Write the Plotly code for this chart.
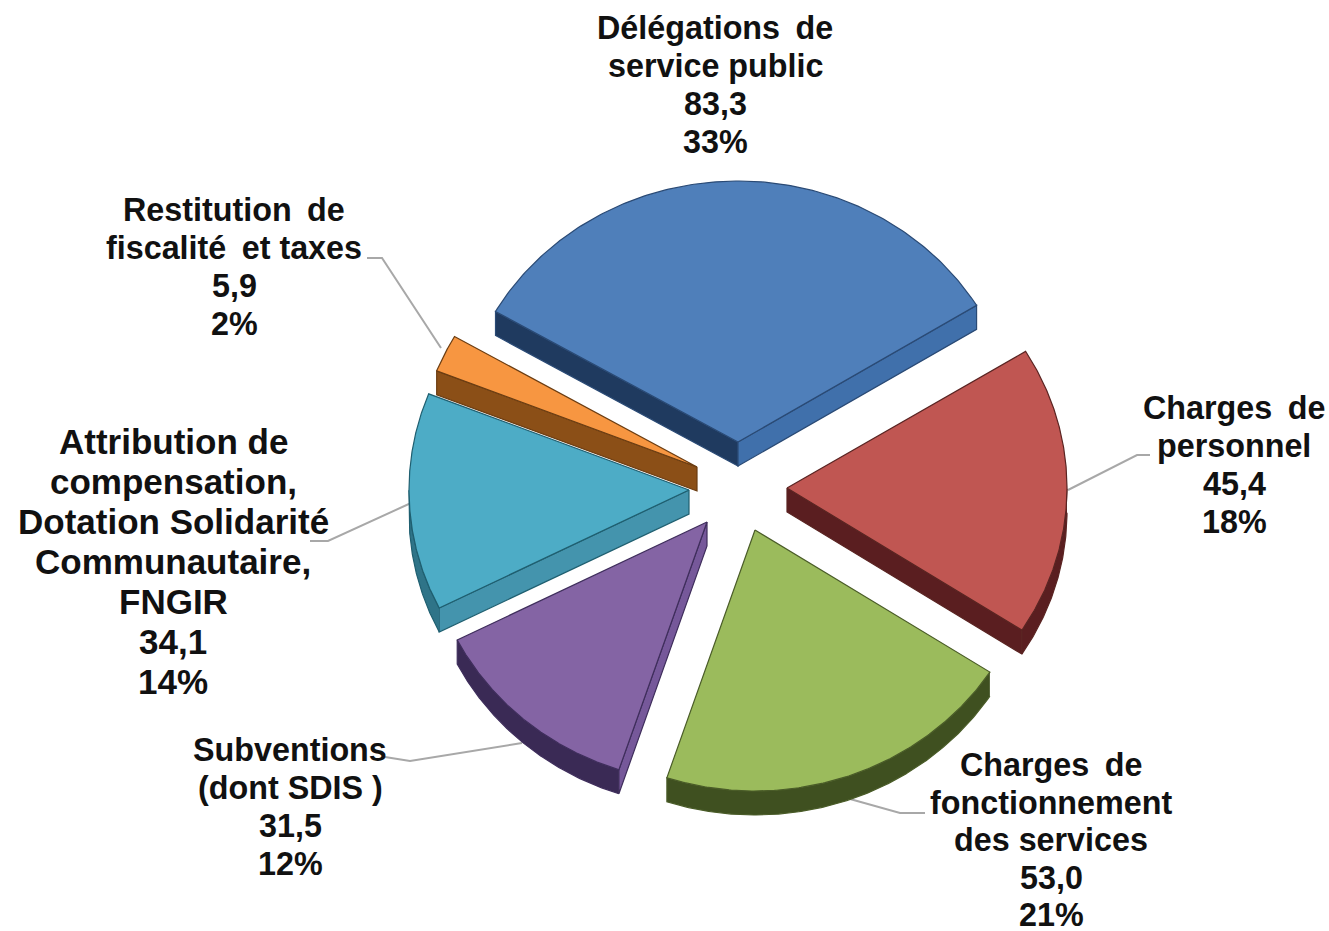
import numpy as np
import plotly.graph_objects as go

# --- data ---
categories = [
    ["Délégations\u00a0\u2009de", "service public"],
    ["Charges\u00a0\u2009de", "personnel"],
    ["Charges\u00a0\u2009de", "fonctionnement", "des services"],
    ["Subventions", "(dont SDIS )"],
    ["Attribution de", "compensation,", "Dotation Solidarité", "Communautaire,", "FNGIR"],
    ["Restitution\u00a0\u2009de", "fiscalité\u00a0\u2009et taxes"],
]
values = [83.3, 45.4, 53.0, 31.5, 34.1, 5.9]
value_labels = ["83,3", "45,4", "53,0", "31,5", "34,1", "5,9"]
percent_labels = ["33%", "18%", "21%", "12%", "14%", "2%"]

# --- styling / layout ---
top_colors = ["#4f7fba", "#c05652", "#9bbb5c", "#8464a4", "#4dacc6", "#f79641"]
line_colors = ["#2a4a75", "#5a2422", "#4a5c28", "#3f2e5c", "#1f5f70", "#6b3d12"]
arc_wall = ["#1f3a5f", "#5a1e20", "#3f5020", "#3a2a55", "#2f7488", "#8b4f17"]
start_wall = ["#1f3a5f", "#5a1e20", "#3f5020", "#76589a", "#4494ad", "#8b4f17"]
end_wall = ["#4070ab", "#5a1e20", "#3f5020", "#3a2a55", "#2f7488", "#8b4f17"]
apex_x = [738, 787, 755, 707, 689, 697]
apex_y = [442, 488, 530, 522, 490, 467]
draw_order = [0, 1, 2, 4, 5, 3]
ROTATION = -60.0
RX, RY, DEPTH = 280, 261, 24

label_x = [715, 1234, 1051, 290, 173, 234]
label_y = [28, 408, 765, 750, 441, 210]
label_step = [38, 38, 37.5, 38, 40, 38]
label_size = [32.3, 32.3, 32.3, 32.3, 35, 32.3]

leaders = [
    ([1068, 1137, 1150], [490, 455, 455]),
    ([850, 900, 925], [799, 813, 813]),
    ([385, 410, 522], [757, 761, 743]),
    ([310, 328, 411], [541, 541, 503]),
    ([367, 382, 441], [258, 258, 348]),
]

fig = go.Figure()


def poly(xs, ys, fill, edge):
    fig.add_trace(go.Scatter(
        x=xs, y=ys, mode="lines", fill="toself", fillcolor=fill,
        line=dict(color=edge, width=1.2), hoverinfo="skip", showlegend=False,
    ))


for lx, ly in leaders:
    fig.add_trace(go.Scatter(x=lx, y=ly, mode="lines", line=dict(color="#a8a8a8", width=2),
                             hoverinfo="skip", showlegend=False))

total = sum(values)
bounds = ROTATION + np.concatenate([[0], np.cumsum(values)]) / total * 360.0

for i in draw_order:
    t1, t2 = np.radians(bounds[i]), np.radians(bounds[i + 1])
    t = np.linspace(t1, t2, 180)
    ax, ay = apex_x[i], apex_y[i]
    px = ax + RX * np.sin(t)
    py = ay - RY * np.cos(t)
    # radial walls: only those facing the viewer
    if np.sin(t1) < 0:
        poly([ax, px[0], px[0], ax, ax], [ay, py[0], py[0] + DEPTH, ay + DEPTH, ay],
             start_wall[i], line_colors[i])
    if np.sin(t2) > 0:
        poly([ax, px[-1], px[-1], ax, ax], [ay, py[-1], py[-1] + DEPTH, ay + DEPTH, ay],
             end_wall[i], line_colors[i])
    # outer wall: lower half of the ellipse only
    front = np.cos(t) < 0
    if front.any():
        fx, fy = px[front], py[front]
        poly(list(fx) + list(fx[::-1]), list(fy) + list(fy[::-1] + DEPTH), arc_wall[i], line_colors[i])
    # top face
    poly([ax] + list(px) + [ax], [ay] + list(py) + [ay], top_colors[i], line_colors[i])

annotations = []
for i, cat in enumerate(categories):
    lines = cat + [value_labels[i], percent_labels[i]]
    for k, txt in enumerate(lines):
        annotations.append(dict(
            x=label_x[i], y=label_y[i] + k * label_step[i], text=txt, showarrow=False,
            xanchor="center", yanchor="middle", xref="x", yref="y",
            font=dict(family="Liberation Sans, Arial, sans-serif", size=label_size[i], color="#111111",
                      weight="bold"),
        ))

fig.update_layout(
    width=1329, height=931, autosize=False,
    margin=dict(l=0, r=0, t=0, b=0),
    paper_bgcolor="white", plot_bgcolor="white", showlegend=False,
    xaxis=dict(range=[0, 1329], visible=False, fixedrange=True),
    yaxis=dict(range=[931, 0], visible=False, fixedrange=True),
    annotations=annotations,
)
fig.write_html("out.html", config=dict(displayModeBar=False),
               post_script="document.body.style.margin='0';document.body.style.overflow='hidden';")
